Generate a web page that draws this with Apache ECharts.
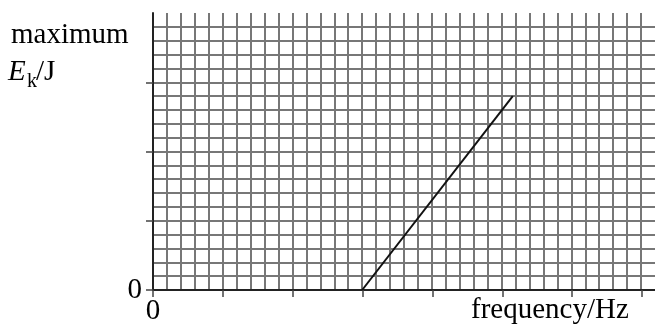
<!DOCTYPE html>
<html>
<head>
<meta charset="utf-8">
<script src="https://cdn.jsdelivr.net/npm/echarts@6/dist/echarts.min.js"></script>
<style>
  html, body { margin: 0; padding: 0; background: #fff; }
  #chart { width: 655px; height: 328px; }
</style>
</head>
<body>
<div id="chart"></div>
<script>
// Graph paper plot: max kinetic energy against frequency (cell units)
const freq = [15, 25.8];
const ekMax = [0, 14];

const xTitle = 'frequency/Hz';
const yTitleTop = 'maximum';
const yTitleSymbol = 'E';
const yTitleSub = 'k';
const yTitleUnit = '/J';
const zeroLabel = '0';

const serif = '"Liberation Serif", "Times New Roman", serif';
const gridColor = '#777';

const chart = echarts.init(document.getElementById('chart'), null, { renderer: 'canvas' });

chart.setOption({
    animation: false,
    // grid 0: the squared paper, grid 1: only the major ticks and the zero labels
    grid: [
        { left: 153, top: 13, width: 503, height: 277 },
        { left: 153, top: 82.25, width: 489, height: 207.75 }
    ],
    xAxis: [{
        gridIndex: 0, type: 'value', min: 0, max: 36, interval: 1,
        axisLine: { show: true, lineStyle: { color: '#222', width: 2 } },
        axisTick: { show: false },
        axisLabel: { show: false },
        splitLine: { show: true, showMaxLine: false, lineStyle: { color: gridColor, width: 2 } }
    }, {
        gridIndex: 1, type: 'value', min: 0, max: 35, interval: 5,
        axisLine: { show: false },
        axisTick: { show: true, length: 7, lineStyle: { color: '#444', width: 1.5 } },
        axisLabel: {
            show: true, margin: 7, color: '#000', fontFamily: serif, fontSize: 29,
            formatter: v => v === 0 ? zeroLabel : ''
        },
        splitLine: { show: false }
    }],
    yAxis: [{
        gridIndex: 0, type: 'value', min: 0, max: 20, interval: 1,
        axisLine: { show: true, lineStyle: { color: '#222', width: 2 } },
        axisTick: { show: false },
        axisLabel: { show: false },
        splitLine: { show: true, showMaxLine: false, lineStyle: { color: gridColor, width: 2 } }
    }, {
        gridIndex: 1, type: 'value', min: 0, max: 15, interval: 5,
        axisLine: { show: false },
        axisTick: { show: true, length: 7, lineStyle: { color: '#444', width: 1.5 } },
        axisLabel: {
            show: true, margin: 11, color: '#000', fontFamily: serif, fontSize: 29,
            formatter: v => v === 0 ? zeroLabel : ''
        },
        splitLine: { show: false }
    }],
    series: [{
        type: 'line',
        xAxisIndex: 0,
        yAxisIndex: 0,
        data: freq.map((f, i) => [f, ekMax[i]]),
        symbol: 'none',
        lineStyle: { color: '#111', width: 2 }
    }],
    graphic: [
        { type: 'text', left: 11, top: 21, style: { text: yTitleTop, font: '29px ' + serif, fill: '#000' } },
        { type: 'text', left: 8, top: 58, style: { text: yTitleSymbol, font: 'italic 29px ' + serif, fill: '#000' } },
        { type: 'text', left: 27, top: 72, style: { text: yTitleSub, font: '20px ' + serif, fill: '#000' } },
        { type: 'text', left: 36, top: 58, style: { text: yTitleUnit, font: '29px ' + serif, fill: '#000' } },
        { type: 'text', left: 471, top: 296, style: { text: xTitle, font: '29px ' + serif, fill: '#000' } }
    ]
});
</script>
</body>
</html>
